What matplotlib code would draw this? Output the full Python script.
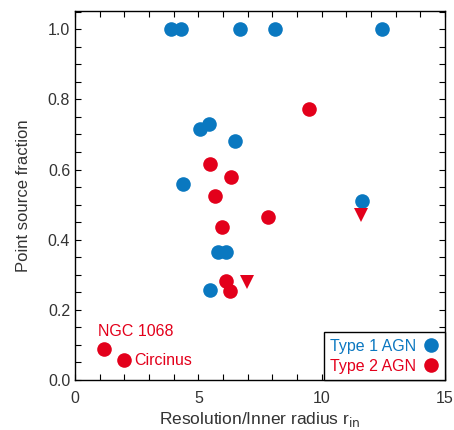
import matplotlib.pyplot as plt
from matplotlib.ticker import MultipleLocator

plt.rcParams['font.family'] = ['Liberation Sans', 'DejaVu Sans']

blue = '#0a78c0'
red = '#e3001b'

# Type 1 AGN
t1_x = [3.89, 4.30, 6.68, 8.09, 12.44, 5.07, 5.44, 6.50, 4.36, 11.65, 5.81, 6.13, 5.46]
t1_y = [1.0, 1.0, 1.0, 1.0, 1.0, 0.716, 0.731, 0.681, 0.560, 0.511, 0.365, 0.365, 0.257]

# Type 2 AGN
t2_x = [9.50, 5.48, 6.32, 5.69, 7.83, 5.97, 6.11, 6.27, 1.18, 2.00]
t2_y = [0.773, 0.615, 0.580, 0.526, 0.466, 0.437, 0.282, 0.253, 0.089, 0.057]

# Type 2 upper limits
lim_x = [6.97, 11.58]
lim_y = [0.279, 0.471]

fig = plt.figure(figsize=(4.54, 4.30), dpi=100)
ax = fig.add_axes([75/454, 50/430, 370/454, 369/430])

ax.plot(t1_x, t1_y, 'o', color=blue, ms=10.5, mew=0, zorder=3)
ax.plot(t2_x, t2_y, 'o', color=red, ms=10.5, mew=0, zorder=3)
ax.plot(lim_x, lim_y, 'v', color=red, ms=10, mew=0, zorder=3)

ax.text(0.93, 0.125, 'NGC 1068', color=red, fontsize=11.5)
ax.text(2.00 + 0.4, 0.057, 'Circinus', color=red, fontsize=11.5, va='center')

h1, = ax.plot([], [], 'o', color=blue, ms=10.5, mew=0)
h2, = ax.plot([], [], 'o', color=red, ms=10.5, mew=0)
leg = ax.legend([h1, h2], ['Type 1 AGN', 'Type 2 AGN'], loc='lower right',
                markerfirst=False, labelcolor=[blue, red], fontsize=11.5,
                borderaxespad=0, fancybox=False, framealpha=1,
                edgecolor='black', handlelength=1.0, handletextpad=0.4,
                labelspacing=0.3, borderpad=0.4)
leg.get_frame().set_linewidth(1.0)

ax.set_xlim(0, 15)
ax.set_ylim(0, 1.052)
ax.xaxis.set_major_locator(MultipleLocator(5))
ax.xaxis.set_minor_locator(MultipleLocator(1))
ax.yaxis.set_major_locator(MultipleLocator(0.2))
ax.yaxis.set_minor_locator(MultipleLocator(0.05))
ax.yaxis.set_major_formatter(plt.FormatStrFormatter('%.1f'))
ax.tick_params(which='both', direction='in', top=True, right=True,
               length=4, width=0.8, labelsize=11.5, labelcolor='#333333')
ax.tick_params(axis='x', pad=8)
for s in ax.spines.values():
    s.set_linewidth(1.0)

ax.set_xlabel('Resolution/Inner radius r$_{\\rm in}$', fontsize=12.5,
              color='#333333', labelpad=3)
ax.set_ylabel('Point source fraction', fontsize=12, color='#333333',
              labelpad=12)

fig.savefig('out.png', dpi=100)
